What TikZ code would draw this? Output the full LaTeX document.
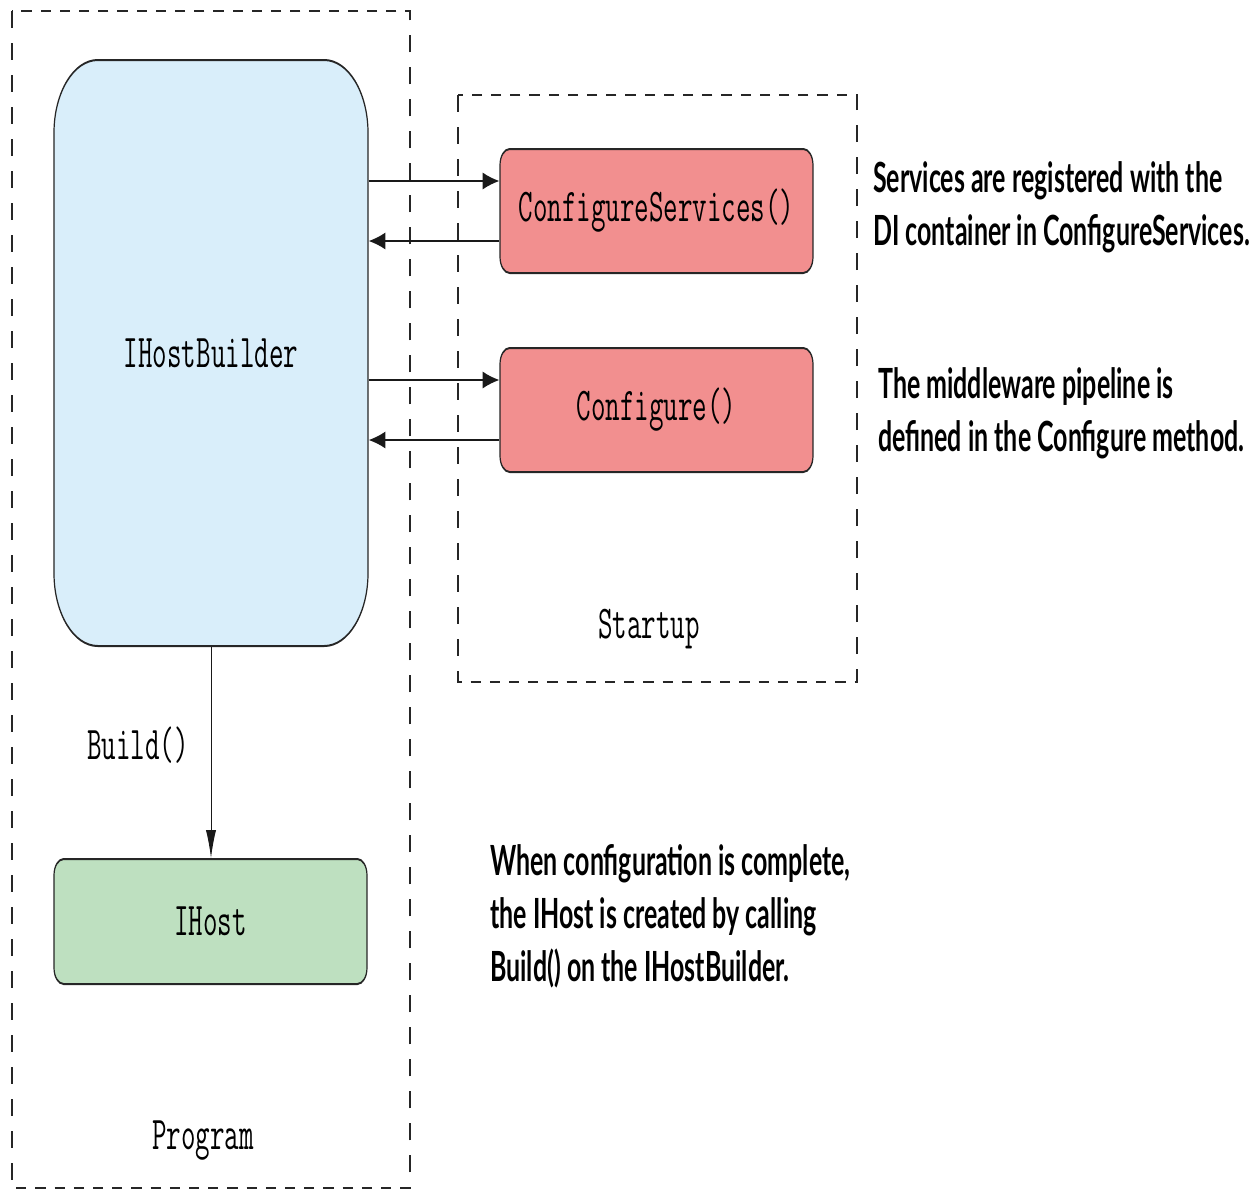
\documentclass[tikz,border=0pt]{standalone}
\usepackage{fontspec}
\newfontfamily\notefont{Lato}
\usepackage{tikz}
\usetikzlibrary{arrows.meta, positioning, calc}

\definecolor{builderblue}{HTML}{D9EEFA}
\definecolor{startred}{HTML}{F28F8F}
\definecolor{hostgreen}{HTML}{BEE0C0}

\newcommand\codetext{\ttfamily\fontsize{23.5}{26}\selectfont}
\newcommand\notetext{\notefont\bfseries\fontsize{20.8}{26.5}\selectfont}

\tikzset{
  basebox/.style={draw=black!85, line width=1pt, font=\codetext},
  builderbox/.style={basebox, fill=builderblue, rounded corners=36.5pt,
    minimum width=261.7pt, minimum height=293pt},
  callbox/.style={basebox, fill=startred, rounded corners=8pt,
    minimum width=260.8pt, minimum height=62pt},
  hostbox/.style={basebox, fill=hostgreen, rounded corners=8pt,
    minimum width=260.8pt, minimum height=62.5pt},
  codelabel/.style={font=\codetext, inner sep=0pt},
  note/.style={font=\notetext, align=left, anchor=base west, inner sep=0pt},
  fwd/.style={-{Latex[length=14pt,width=8.5pt]}, line width=0.8pt, draw=black!90},
  groupline/.style={dash pattern=on 8.5pt off 7.5pt, line width=1pt, draw=black!85},
}

\begin{document}
\begin{tikzpicture}[x=0.5pt, y=-0.5pt]
  \useasboundingbox (0,0) rectangle (1257,1190);
  \begin{scope}[transform canvas={xscale=0.6}, x=0.83333pt]
    % Program and Startup groups
    \draw[groupline] (12,11) rectangle (410,1188);
    \draw[groupline] (458,95) rectangle (857,682);

    % Boxes
    \node[builderbox] (builder) at (211,353) {IHostBuilder};
    \node[callbox] (services) at (656.5,211) {ConfigureServices()};
    \node[callbox] (configure) at (656.5,410) {Configure()};
    \node[hostbox] (host) at (210.5,921.5) {IHost};

    % Group labels
    \node[codelabel] (program) at (203,1140) {Program};
    \node[codelabel] (startup) at (649,629) {Startup};

    % Calls into Startup and back
    \coordinate (servicesin) at ($(services.west)+(0,-30)$);
    \coordinate (servicesout) at ($(services.west)+(0,30)$);
    \coordinate (configurein) at ($(configure.west)+(0,-30)$);
    \coordinate (configureout) at ($(configure.west)+(0,30)$);
    \draw[fwd] (servicesin -| builder.east) -- (servicesin);
    \draw[fwd] (servicesout) -- (servicesout -| builder.east);
    \draw[fwd] (configurein -| builder.east) -- (configurein);
    \draw[fwd] (configureout) -- (configureout -| builder.east);

    % Build the host
    \draw[fwd] (builder.south) -- (builder.south |- host.north);
    \node[codelabel] (build) at (138,745) {Build()};

    % Notes (base = last line)
    \node[note] (servicesnote) at (873,245)
      {Services are registered with the\\DI container in ConfigureServices.};
    \node[note] (configurenote) at (878,451)
      {The middleware pipeline is\\defined in the Configure method.};
    \node[note] (hostnote) at (490,981)
      {When configuration is complete,\\the IHost is created by calling\\Build() on the IHostBuilder.};
  \end{scope}
\end{tikzpicture}
\end{document}
